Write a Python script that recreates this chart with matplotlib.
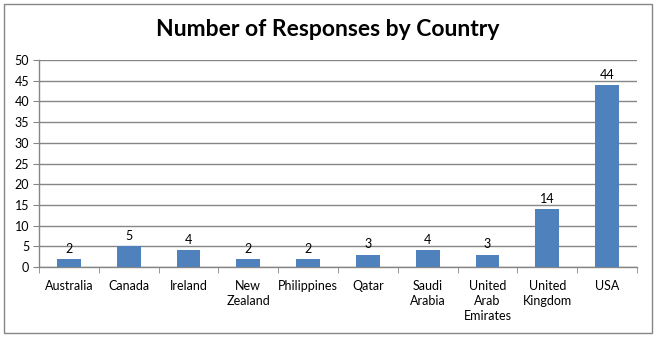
import matplotlib
matplotlib.use("Agg")
import matplotlib.pyplot as plt
from matplotlib.patches import Rectangle

countries = ["Australia", "Canada", "Ireland", "New\nZealand", "Philippines",
             "Qatar", "Saudi\nArabia", "United\nArab\nEmirates", "United\nKingdom", "USA"]
responses = [2, 5, 4, 2, 2, 3, 4, 3, 14, 44]
yticks = [0, 5, 10, 15, 20, 25, 30, 35, 40, 45, 50]

W, H = 657, 338
fig = plt.figure(figsize=(W / 100, H / 100), dpi=100)
plt.rcParams["font.family"] = ["Lato", "DejaVu Sans"]

grey = "#868686"
bar_color = "#4F81BD"

# chart-area border
fig.patches.append(Rectangle((4 / W, 1 - 333 / H), 648 / W, 329 / H,
                             transform=fig.transFigure, fill=False,
                             edgecolor=grey, linewidth=1))

left, right, top, bottom = 39, 637, 60, 267
ax = fig.add_axes([left / W, 1 - bottom / H, (right - left) / W, (bottom - top) / H])

x = list(range(len(countries)))
bars = ax.bar(x, responses, width=0.4, color=bar_color, zorder=3)
for xi, v in zip(x, responses):
    ax.text(xi, v + 1.0, str(v), ha="center", va="bottom", fontsize=9, color="black")

ax.set_xlim(-0.5, len(countries) - 0.5)
ax.set_ylim(0, 50)
ax.set_yticks(yticks)
ax.set_yticklabels([str(t) for t in yticks], fontsize=9)
ax.yaxis.grid(True, color=grey, linewidth=1, zorder=0)
ax.set_axisbelow(True)

# category labels centred, ticks on category boundaries
ax.set_xticks(x)
ax.set_xticklabels(countries, fontsize=9, linespacing=1.35, va="top")
ax.tick_params(axis="x", which="major", length=0, pad=9)
ax.set_xticks([i - 0.5 for i in range(len(countries) + 1)], minor=True)
ax.tick_params(axis="x", which="minor", length=4, color=grey, direction="out")
ax.tick_params(axis="y", length=4, color=grey, pad=3)

for s in ["top", "right"]:
    ax.spines[s].set_visible(False)
for s in ["left", "bottom"]:
    ax.spines[s].set_color(grey)
    ax.spines[s].set_linewidth(1)

fig.text(328 / W, 1 - 30 / H, "Number of Responses by Country", ha="center", va="center",
         fontsize=16.5, fontweight="bold", color="black")

fig.savefig("out.png", dpi=100)
